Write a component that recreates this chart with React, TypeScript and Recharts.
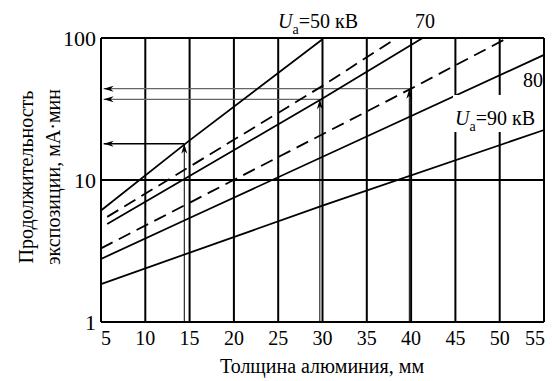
import { CartesianGrid, Line, LineChart, XAxis, YAxis } from 'recharts'

const FONT = '"Liberation Serif", "Times New Roman", serif'

const xTicks = [5, 10, 15, 20, 25, 30, 35, 40, 45, 50, 55]
const yTicks = [1, 10, 100]

// solid curves, exposure (mA·min) vs aluminium thickness (mm)
const ua50 = [{ t: 5, v: 6.1 }, { t: 15, v: 19 }, { t: 30, v: 98 }]
const ua70 = [{ t: 5.7, v: 4.9 }, { t: 30, v: 37.5 }, { t: 41.3, v: 100 }]
const ua80 = [{ t: 5, v: 2.78 }, { t: 15, v: 5.4 }, { t: 55, v: 76 }]
const ua90 = [{ t: 5, v: 1.85 }, { t: 30, v: 6.6 }, { t: 55, v: 22.5 }]

// dashed curves
const dashUpper = [{ t: 5.7, v: 5.5 }, { t: 30, v: 46 }, { t: 37.8, v: 95 }]
const dashLower = [{ t: 5, v: 3.3 }, { t: 40, v: 44 }, { t: 50.6, v: 98 }]

// reading examples: thickness -> exposure
const readT = [14.4, 29.7, 39.8]
const readV = [18, 37, 44]
const readColor = ['#000', '#666', '#666']

const solids = [ua50, ua70, ua80, ua90]
const dashed = [dashUpper, dashLower]

const arrowHead = (dir: 'up' | 'left') => (props: any) => {
  const { cx, cy, index } = props
  if (index !== 1) return <g key={`a-${dir}-${index}-${cx}`} />
  const d =
    dir === 'up'
      ? `M${cx},${cy} L${cx - 3},${cy + 10} L${cx},${cy + 7} L${cx + 3},${cy + 10} Z`
      : `M${cx},${cy} L${cx + 10},${cy - 3} L${cx + 7},${cy} L${cx + 10},${cy + 3} Z`
  return <path key={`a-${dir}-${cx}-${cy}`} d={d} fill="#000" />
}

const XTick = ({ x, y, payload }: any) => {
  // first and last labels sit inside the frame edges
  const shift = payload.value === 5 ? 5 : payload.value === 55 ? -9 : 0
  return (
    <text x={x + shift} y={y + 7} dy="0.71em" textAnchor="middle" fill="#000" fontSize={20} fontFamily={FONT}>
      {payload.value}
    </text>
  )
}

const YTick = ({ x, y, payload }: any) => (
  <text x={x - 3} y={y} dy="0.355em" textAnchor="end" fill="#000" fontSize={22} fontFamily={FONT}>
    {payload.value}
  </text>
)

const txt: React.CSSProperties = {
  position: 'absolute',
  fontFamily: FONT,
  fontSize: 20,
  lineHeight: '20px',
  color: '#000',
  whiteSpace: 'nowrap'
}

function Ua({ value }: { value: string }) {
  return (
    <>
      <i>U</i>
      <span style={{ fontSize: 14, position: 'relative', top: 6 }}>a</span>={value} кВ
    </>
  )
}

export default function App() {
  return (
    <div style={{ position: 'relative', width: 552, height: 381, background: '#fff', fontFamily: FONT }}>
      <style>{'body{margin:0}'}</style>
      <LineChart width={552} height={381} margin={{ top: 38, right: 8, bottom: 29, left: 41 }}>
        <CartesianGrid stroke="#000" strokeWidth={2} />
        <XAxis
          dataKey="t"
          type="number"
          domain={[5, 55]}
          ticks={xTicks}
          height={30}
          axisLine={false}
          tickLine={false}
          tickSize={0}
          tick={<XTick />}
        />
        <YAxis
          dataKey="v"
          type="number"
          scale="log"
          domain={[1, 100]}
          ticks={yTicks}
          width={60}
          axisLine={false}
          tickLine={false}
          tickSize={0}
          tick={<YTick />}
        />
        {readT.map((t, i) => (
          <Line
            key={`up${i}`}
            data={[{ t, v: 1 }, { t, v: readV[i] }]}
            dataKey="v"
            stroke="#000"
            strokeWidth={1}
            dot={arrowHead('up')}
            activeDot={false}
            isAnimationActive={false}
          />
        ))}
        {readT.map((t, i) => (
          <Line
            key={`left${i}`}
            data={[{ t, v: readV[i] }, { t: 5.3, v: readV[i] }]}
            dataKey="v"
            stroke={readColor[i]}
            strokeWidth={1.3}
            dot={arrowHead('left')}
            activeDot={false}
            isAnimationActive={false}
          />
        ))}
        {solids.map((d, i) => (
          <Line
            key={`s${i}`}
            data={d}
            dataKey="v"
            stroke="#000"
            strokeWidth={1.8}
            dot={false}
            activeDot={false}
            isAnimationActive={false}
          />
        ))}
        {dashed.map((d, i) => (
          <Line
            key={`d${i}`}
            data={d}
            dataKey="v"
            stroke="#000"
            strokeWidth={1.8}
            strokeDasharray="13 7"
            dot={false}
            activeDot={false}
            isAnimationActive={false}
          />
        ))}
      </LineChart>

      <div
        style={{
          ...txt,
          left: 40 - 150,
          top: 177 - 27,
          width: 300,
          height: 54,
          lineHeight: '27px',
          textAlign: 'center',
          transform: 'rotate(-90deg)'
        }}
      >
        Продолжительность
        <br />
        экспозиции, мА·мин
      </div>
      <div style={{ ...txt, left: 172, width: 300, top: 356, textAlign: 'center' }}>Толщина алюминия, мм</div>

      <div style={{ ...txt, left: 278, top: 11 }}>
        <Ua value="50" />
      </div>
      <div style={{ ...txt, left: 415, top: 11 }}>70</div>
      <div style={{ ...txt, left: 523, top: 70, width: 20, textAlign: 'right' }}>80</div>
      <div style={{ ...txt, left: 453, top: 95, height: 37, paddingTop: 13, boxSizing: 'border-box', background: '#fff', paddingLeft: 2, paddingRight: 0 }}>
        <Ua value="90" />
      </div>
    </div>
  )
}
